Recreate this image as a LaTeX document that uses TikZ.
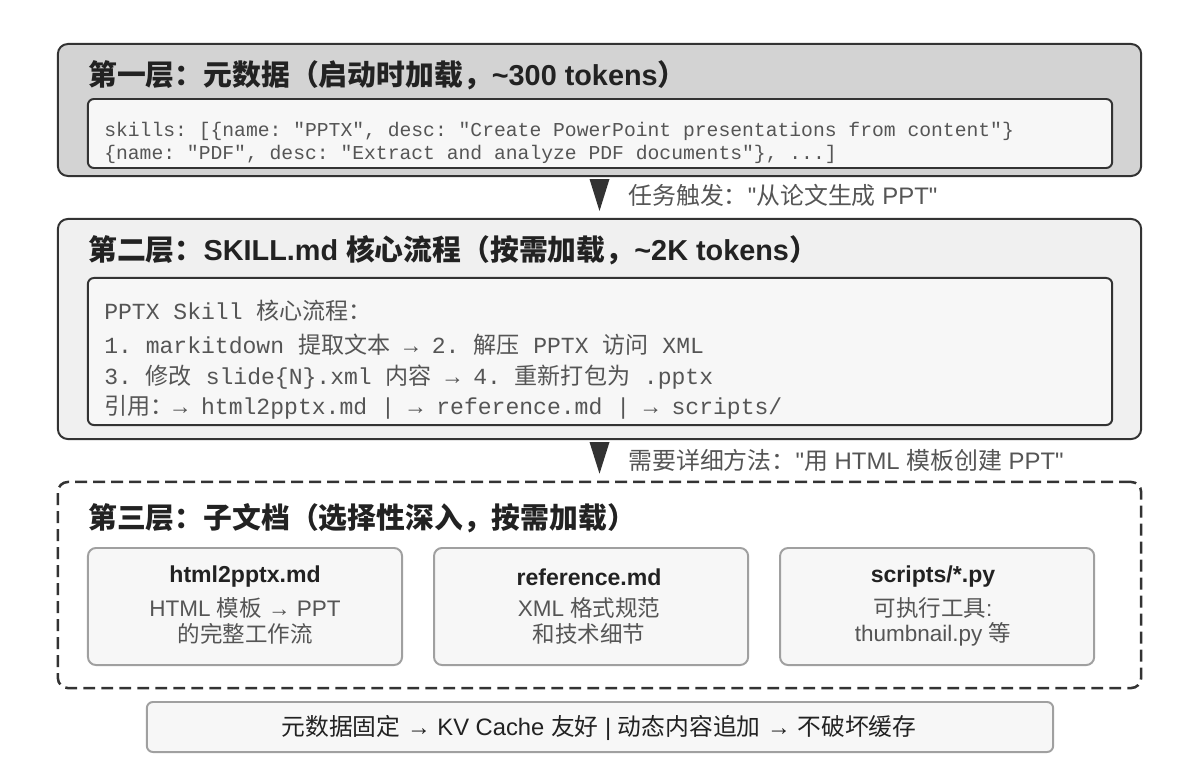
\documentclass[tikz,border=0pt]{standalone}
\usepackage{fontspec}
\setmainfont{Liberation Sans}[Ligatures=TeXOff]
\setmonofont{Liberation Mono}
\newfontfamily\cjk{Noto Sans CJK SC}
\usetikzlibrary{positioning}
\definecolor{layerOneFill}{HTML}{D3D3D3}
\definecolor{layerTwoFill}{HTML}{F0F0F0}
\definecolor{innerFill}{HTML}{F7F7F7}
\definecolor{edgeDark}{HTML}{333333}
\definecolor{edgeGray}{HTML}{A0A0A0}
\definecolor{textDark}{HTML}{222222}
\definecolor{textGray}{HTML}{555555}

\begin{document}
\begin{tikzpicture}[x=0.025cm,y=-0.025cm]

          \tikzstyle{layerOne} = [draw=edgeDark, line width=1.4pt, fill=layerOneFill, rounded corners=0.25cm, inner sep=0pt, minimum width=27.075cm, minimum height=3.3cm];
          \tikzstyle{layerTwo} = [draw=edgeDark, line width=1.4pt, fill=layerTwoFill, rounded corners=0.25cm, inner sep=0pt, minimum width=27.075cm, minimum height=5.5cm];
          \tikzstyle{layerThree} = [draw=edgeDark, line width=1.8pt, dash pattern=on 8.5pt off 4.3pt, fill=white, rounded corners=0.25cm, inner sep=0pt, minimum width=27.075cm, minimum height=5.15cm];
          \tikzstyle{codeBox} = [draw=edgeDark, line width=1.4pt, fill=innerFill, rounded corners=0.15cm, inner sep=0pt, minimum width=25.6cm];
          \tikzstyle{docBox} = [draw=edgeGray, line width=1.4pt, fill=innerFill, rounded corners=0.2cm, inner sep=0pt, minimum width=7.85cm, minimum height=2.925cm];
          \tikzstyle{layerTitle} = [anchor=west, inner sep=0pt, text=textDark, font=\fontsize{20.5}{24}\selectfont\bfseries];
          \tikzstyle{codeSmall} = [anchor=west, inner sep=0pt, text=textGray, font=\fontsize{14}{17}\selectfont\ttfamily];
          \tikzstyle{codeLarge} = [anchor=west, inner sep=0pt, text=textGray, font=\fontsize{16.4}{20}\selectfont\ttfamily];
          \tikzstyle{trigger} = [anchor=west, inner sep=0pt, text=textGray, font=\fontsize{17}{20}\selectfont];
          \tikzstyle{docTitle} = [inner sep=0pt, text=textDark, font=\fontsize{16.4}{20}\selectfont\bfseries];
          \tikzstyle{docText} = [inner sep=0pt, text=textGray, font=\fontsize{16}{20}\selectfont];
          \tikzstyle{wedge} = [fill=edgeDark];

          \useasboundingbox (0,0) rectangle (1200,768);

          % layer 1
          \node[layerOne] (layerOne) at (599.5,110) {};
          \node[layerTitle] (titleOne) at (88,75) {{\cjk 第一层：元数据（启动时加载，}\textasciitilde 300 tokens{\cjk ）}};
          \node[codeBox, minimum height=1.725cm] (codeOne) at (600,133.5) {};
          \node[codeSmall] (skillsA) at (104,131) {skills: [\{name: "PPTX", desc: "Create PowerPoint presentations from content"\}};
          \node[codeSmall] (skillsB) at (104,154) {\{name: "PDF", desc: "Extract and analyze PDF documents"\}, ...]};

          % layer 2
          \node[layerTwo] (layerTwo) at (599.5,329) {};
          \node[layerTitle] (titleTwo) at (88,250) {{\cjk 第二层：}SKILL.md {\cjk 核心流程（按需加载，}\textasciitilde 2K tokens{\cjk ）}};
          \node[codeBox, minimum height=3.675cm] (codeTwo) at (600,351.5) {};
          \node[codeLarge] (flowHead) at (104,311) {PPTX Skill {\cjk 核心流程：}};
          \node[codeLarge] (flowA) at (104,345) {1. markitdown {\cjk 提取文本} → 2. {\cjk 解压} PPTX {\cjk 访问} XML};
          \node[codeLarge] (flowB) at (104,377) {3. {\cjk 修改} slide\{N\}.xml {\cjk 内容} → 4. {\cjk 重新打包为} .pptx};
          \node[codeLarge] (flowRefs) at (104,407) {{\cjk 引用：}→ html2pptx.md | → reference.md | → scripts/};

          % layer 3
          \node[layerThree] (layerThree) at (599.5,585) {};
          \node[layerTitle] (titleThree) at (88,518) {\cjk 第三层：子文档（选择性深入，按需加载）};
          \node[docBox] (htmlDoc) at (245,606.5) {};
          \node[docBox, right=0.75cm of htmlDoc] (refDoc) {};
          \node[docBox, right=0.75cm of refDoc] (scriptDoc) {};
          \node[docTitle] (htmlName) at (245,577) {html2pptx.md};
          \node[docText] (htmlA) at (245,608) {HTML {\cjk 模板} → PPT};
          \node[docText] (htmlB) at (245,634) {\cjk 的完整工作流};
          \node[docTitle] (refName) at (589,577) {reference.md};
          \node[docText] (refA) at (589,608) {XML {\cjk 格式规范}};
          \node[docText] (refB) at (589,634) {\cjk 和技术细节};
          \node[docTitle] (scriptName) at (933,577) {scripts/*.py};
          \node[docText] (scriptA) at (933,608) {{\cjk 可执行工具}:};
          \node[docText] (scriptB) at (933,634) {thumbnail.py {\cjk 等}};

          % bottom note
          \node[docBox, minimum width=22.65cm, minimum height=1.25cm, rounded corners=0.15cm] (cacheNote) at (600,727) {};
          \node[docText, text=textDark, font=\fontsize{16.9}{20}\selectfont] (cacheText) at (599,728) {{\cjk 元数据固定} → KV Cache {\cjk 友好} | {\cjk 动态内容追加} → {\cjk 不破坏缓存}};

          % wedge arrows
          \fill[wedge] ([xshift=-0.25cm,yshift=-0.05cm]layerOne.south) -- ([xshift=0.25cm,yshift=-0.05cm]layerOne.south) -- ([yshift=0.175cm]layerTwo.north) -- cycle;
          \fill[wedge] ([xshift=-0.25cm,yshift=-0.05cm]layerTwo.south) -- ([xshift=0.25cm,yshift=-0.05cm]layerTwo.south) -- ([yshift=0.175cm]layerThree.north) -- cycle;
          \node[trigger] (triggerOne) at (628,195) {{\cjk 任务触发：}"{\cjk 从论文生成} PPT"};
          \node[trigger] (triggerTwo) at (628,460) {{\cjk 需要详细方法：}"{\cjk 用} HTML {\cjk 模板创建} PPT"};
        \end{tikzpicture}
\end{document}
